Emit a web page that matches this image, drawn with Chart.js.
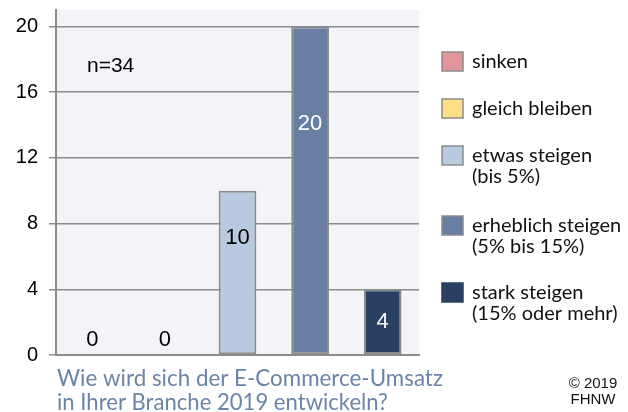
<!DOCTYPE html>
<html>
<head>
<meta charset="utf-8">
<script src="https://cdn.jsdelivr.net/npm/chart.js@4"></script>
<style>
  html, body { margin: 0; padding: 0; background: #fff; }
  #wrap { width: 628px; height: 412px; position: relative; }
</style>
</head>
<body>
<div id="wrap"><canvas id="umsatzChart" width="628" height="412"></canvas></div>
<script>
"use strict";

// Werte aus der Umfrage (n=34)
const categories = ['sinken', 'gleich bleiben', 'etwas steigen (bis 5%)', 'erheblich steigen (5% bis 15%)', 'stark steigen (15% oder mehr)'];
const legendLines = [['sinken'], ['gleich bleiben'], ['etwas steigen', '(bis 5%)'], ['erheblich steigen', '(5% bis 15%)'], ['stark steigen', '(15% oder mehr)']];
const answers = [0, 0, 10, 20, 4];
const yTicks = [0, 4, 8, 12, 16, 20];
const barColors = ['#e3959b', '#fde085', '#b9c9e0', '#687fa3', '#2a4062'];
const labelColors = ['#000', '#000', '#000', '#fff', '#fff'];
const captionLines = ['Wie wird sich der E-Commerce-Umsatz', 'in Ihrer Branche 2019 entwickeln?'];
const sampleText = 'n=34';
const copyLines = ['© 2019', 'FHNW'];

const gridGray = '#8c8c8c';

const plotBackground = {
  id: 'plotBackground',
  beforeDraw(chart) {
    const { ctx, chartArea } = chart;
    ctx.save();
    ctx.fillStyle = '#f2f4f8';
    ctx.fillRect(chartArea.left, chartArea.top, chartArea.right - chartArea.left, chartArea.bottom - chartArea.top);
    ctx.restore();
  }
};

// Zahlen in / über den Balken
const barLabels = {
  id: 'barLabels',
  afterDatasetsDraw(chart, args, opts) {
    const ctx = chart.ctx;
    const meta = chart.getDatasetMeta(0);
    ctx.save();
    ctx.font = '22px "Liberation Sans", Arial, sans-serif';
    ctx.textAlign = 'center';
    ctx.textBaseline = 'middle';
    meta.data.forEach((bar, i) => {
      ctx.fillStyle = labelColors[i];
      ctx.fillText(String(answers[i]), bar.x, bar.y + opts.offsets[i]);
    });
    ctx.font = '21px "Liberation Sans", Arial, sans-serif';
    ctx.fillStyle = '#000';
    ctx.textAlign = 'left';
    ctx.fillText(sampleText, 87, 66);
    ctx.restore();
  }
};

// eigene Legende rechts, Beschriftung unten
const sideTexts = {
  id: 'sideTexts',
  afterDraw(chart) {
    const ctx = chart.ctx;
    const baselines = [68, 115, 162, 232, 299];
    ctx.save();
    ctx.font = '20px Lato, sans-serif';
    ctx.textBaseline = 'alphabetic';
    ctx.textAlign = 'left';
    legendLines.forEach((lines, i) => {
      const b = baselines[i];
      ctx.fillStyle = barColors[i];
      ctx.fillRect(442, b - 16, 21, 19);
      ctx.strokeStyle = i === 4 ? barColors[i] : gridGray;
      ctx.lineWidth = 1.5;
      ctx.strokeRect(442, b - 16, 21, 19);
      ctx.fillStyle = '#111';
      lines.forEach((t, j) => ctx.fillText(t, 472, b + j * 21, 154));
    });

    ctx.font = '23px Lato, sans-serif';
    ctx.fillStyle = '#6b84a8';
    ctx.fillText(captionLines[0], 57, 386, 386);
    ctx.fillText(captionLines[1], 57, 410, 331);

    ctx.font = '15px "Liberation Sans", Arial, sans-serif';
    ctx.fillStyle = '#111';
    ctx.textAlign = 'center';
    ctx.fillText(copyLines[0], 593, 388);
    ctx.fillText(copyLines[1], 593, 404);
    ctx.restore();
  }
};

const ctx = document.getElementById('umsatzChart').getContext('2d');
const umsatzChart = new Chart(ctx, {
  type: 'bar',
  data: {
    labels: categories,
    datasets: [{
      label: 'Antworten',
      data: answers,
      backgroundColor: barColors,
      borderColor: gridGray,
      borderWidth: 2,
      borderSkipped: false,
      categoryPercentage: 1,
      barPercentage: 0.52
    }]
  },
  options: {
    responsive: false,
    animation: false,
    events: [],
    layout: { padding: { left: 0, right: 209, top: 10, bottom: 57 } },
    plugins: {
      legend: { display: false },
      tooltip: { enabled: false },
      barLabels: { offsets: [-15, -15, 47, 98, 33] }
    },
    scales: {
      x: {
        grid: { display: false },
        border: { display: true, color: gridGray, width: 2 },
        ticks: { display: false },
        afterFit(scale) { scale.height = 0; }
      },
      y: {
        min: 0,
        max: 21,
        afterBuildTicks(scale) { scale.ticks = yTicks.map(v => ({ value: v })); },
        grid: { color: gridGray, lineWidth: 1.5, tickLength: 7 },
        border: { display: true, color: gridGray, width: 2 },
        ticks: {
          padding: 11,
          color: '#000',
          font: { family: '"Liberation Sans", Arial, sans-serif', size: 20 }
        },
        afterFit(scale) {
          scale.width = 56;
          scale.paddingTop = 0;
          scale.paddingBottom = 0;
        }
      }
    }
  },
  plugins: [plotBackground, barLabels, sideTexts]
});
</script>
</body>
</html>
